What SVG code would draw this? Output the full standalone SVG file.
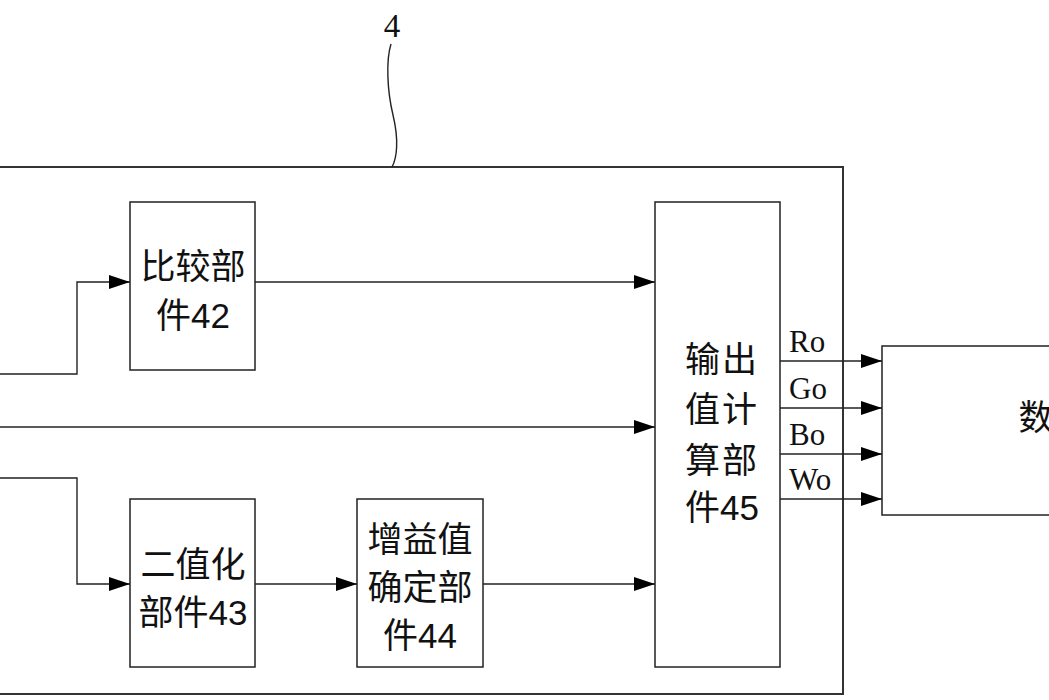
<svg xmlns="http://www.w3.org/2000/svg" width="1049" height="700" viewBox="0 0 1049 700">
<style>
.box{fill:#fff;stroke:#222;stroke-width:1.5}
.outer{fill:none;stroke:#333;stroke-width:2}
.ln{fill:none;stroke:#222;stroke-width:1.4}
.t{font-family:"Liberation Sans","Noto Sans CJK SC",sans-serif;font-size:35px;fill:#111;text-anchor:middle}
.s{font-family:"Liberation Serif","Noto Sans CJK SC",serif;font-size:31px;fill:#111}
</style>
<defs>
<marker id="ah" markerUnits="userSpaceOnUse" markerWidth="22" markerHeight="15" refX="21" refY="7" orient="auto">
<path d="M0,0 L21,7 L0,14 z" fill="#000"/>
</marker>
</defs>
<rect width="1049" height="700" fill="#fff"/>
<g id="outer">
<rect class="outer" x="-10" y="167" width="853" height="527"/>
<text x="392" y="37" style="font-family:'Liberation Serif',serif;font-size:33px;fill:#111;text-anchor:middle">4</text>
<path class="ln" d="M391,44 C386,60 387,90 393,115 C399,140 397,158 392,167" stroke-width="1.2"/>
</g>
<g id="n42">
<rect class="box" x="130" y="202" width="125" height="168"/>
<text class="t" x="193" y="279">比较部</text>
<text class="t" x="193" y="328">件42</text>
</g>
<g id="n43">
<rect class="box" x="130" y="499" width="125" height="168"/>
<text class="t" x="193" y="577">二值化</text>
<text class="t" x="193" y="625">部件43</text>
</g>
<g id="n44">
<rect class="box" x="357" y="499" width="126" height="168"/>
<text class="t" x="420" y="552">增益值</text>
<text class="t" x="420" y="600">确定部</text>
<text class="t" x="420" y="648">件44</text>
</g>
<g id="n45">
<rect class="box" x="655" y="202" width="125" height="465"/>
<text class="t" x="722" y="372" letter-spacing="2">输出</text>
<text class="t" x="722" y="422" letter-spacing="2">值计</text>
<text class="t" x="722" y="473" letter-spacing="2">算部</text>
<text class="t" x="722" y="520">件45</text>
</g>
<g id="n5">
<rect class="box" x="882" y="346" width="180" height="169"/>
<text class="t" x="1036" y="430">数</text>
</g>
<g id="connectors">
<path class="ln" d="M-5,374 H77 V282 H130" marker-end="url(#ah)"/>
<path class="ln" d="M-5,478 H77 V584 H130" marker-end="url(#ah)"/>
<path class="ln" d="M-5,427 H655" marker-end="url(#ah)"/>
<path class="ln" d="M255,282 H655" marker-end="url(#ah)"/>
<path class="ln" d="M255,584 H357" marker-end="url(#ah)"/>
<path class="ln" d="M483,584 H655" marker-end="url(#ah)"/>
<path class="ln" d="M780,361 H882" marker-end="url(#ah)" stroke-width="2"/>
<path class="ln" d="M780,408 H882" marker-end="url(#ah)"/>
<path class="ln" d="M780,454 H882" marker-end="url(#ah)"/>
<path class="ln" d="M780,499 H882" marker-end="url(#ah)"/>
<text class="s" x="789" y="352">Ro</text>
<text class="s" x="789" y="399">Go</text>
<text class="s" x="789" y="445">Bo</text>
<text class="s" x="789" y="490">Wo</text>
</g>
</svg>
